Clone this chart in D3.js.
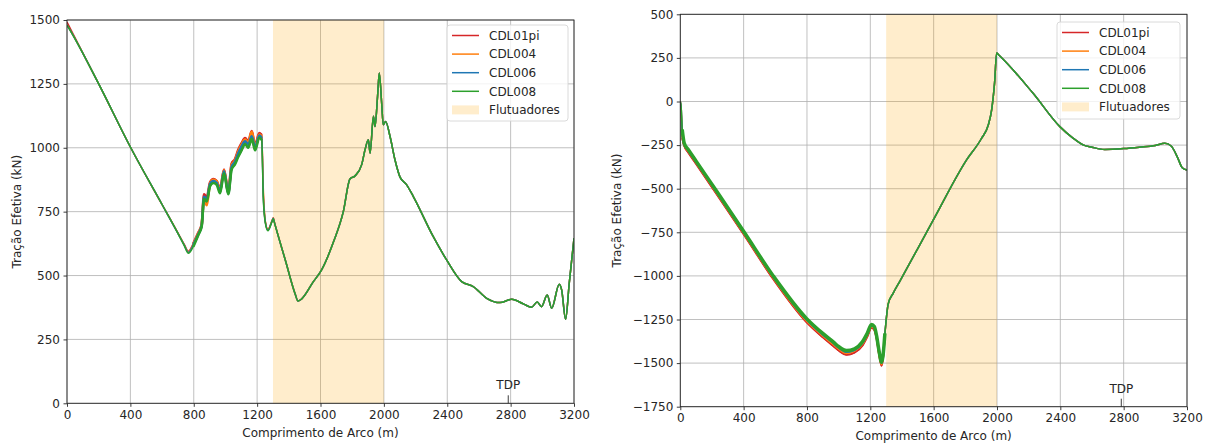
<!DOCTYPE html>
<html>
<head>
<meta charset="utf-8">
<script src="https://cdn.jsdelivr.net/npm/d3@7"></script>
<style>
  body { margin: 0; background: #fff; }
  svg { display: block; font-family: "DejaVu Sans", sans-serif; }
</style>
</head>
<body>
<svg id="chart" width="1214" height="443"></svg>
<script>
// ---- Series metadata ----
const seriesNames  = ["CDL01pi", "CDL004", "CDL006", "CDL008"];
const seriesColors = ["#d62728", "#ff7f0e", "#1f77b4", "#2ca02c"];
const floaterLabel = "Flutuadores";
const floaterSpan  = [1300, 2000];   // arc length range with buoyancy modules (m)
const tdpArc       = 2785;           // touch-down point (m)

// ---- Tick values ----
const xTicks      = [0, 400, 800, 1200, 1600, 2000, 2400, 2800, 3200];
const leftYTicks  = [0, 250, 500, 750, 1000, 1250, 1500];
const rightYTicks = [-1750, -1500, -1250, -1000, -750, -500, -250, 0, 250, 500];

// ---- Left panel: effective tension, first section (series differ here) ----
const leftHeadArc = [0, 5, 200, 400, 600, 700, 740, 766, 797, 829, 850, 865, 882, 903, 924, 945, 966,
  991, 1018, 1039, 1060, 1081, 1102, 1124, 1144, 1166, 1187, 1214, 1229, 1239, 1252, 1268, 1296, 1302, 1308];
const leftHeadCDL01pi = [1492, 1486, 1250, 1003, 778, 667, 622, 595, 625, 668, 700, 818, 805, 865, 878, 870, 838,
  915, 828, 938, 955, 992, 1018, 1038, 1025, 1065, 1010, 1058, 1050, 820, 710, 681, 718, 726, 712];
const leftHeadCDL004 = [1480, 1475, 1250, 1003, 778, 666, 620, 592, 622, 665, 698, 805, 775, 860, 875, 868, 835,
  912, 825, 932, 950, 985, 1012, 1032, 1020, 1062, 1005, 1052, 1045, 840, 712, 679, 717, 725, 711];
const leftHeadCDL006 = [1480, 1475, 1250, 1003, 778, 665, 619, 590, 620, 662, 695, 808, 798, 858, 870, 862, 830,
  908, 822, 925, 945, 978, 1005, 1025, 1012, 1045, 1000, 1048, 1038, 810, 708, 677, 716, 724, 710];
const leftHeadCDL008 = [1480, 1475, 1250, 1003, 778, 665, 617, 587, 613, 659, 692, 800, 790, 850, 862, 855, 822,
  900, 818, 915, 935, 965, 990, 1015, 1000, 1035, 990, 1040, 1030, 800, 705, 675, 714, 722, 709];

// ---- Left panel: remaining section (all series coincide) ----
const leftTailArc = [1380, 1440, 1458, 1480, 1555, 1607, 1681, 1744, 1786, 1818, 1860, 1881, 1902, 1913, 1934,
  1944, 1960, 1971, 1986, 1996, 2011, 2039, 2070, 2102, 2144, 2186, 2312, 2396, 2491, 2564, 2649, 2733, 2807,
  2880, 2932, 2968, 2995, 3031, 3059, 3107, 3122, 3147, 3170, 3200];
const leftTailTension = [556, 428, 400, 408, 476, 522, 630, 750, 878, 890, 934, 992, 1031, 979, 1123,
  1083, 1200, 1293, 1175, 1090, 1103, 1044, 953, 885, 855, 809, 652, 561, 476, 457, 411, 394, 407,
  389, 376, 396, 378, 424, 372, 466, 444, 329, 470, 646];

// ---- Right panel: effective tension, first section (series differ here) ----
const rightHeadArc = [0, 6, 12, 25, 50, 100, 230, 404, 587, 798, 900, 966, 1000, 1050, 1100, 1150, 1180,
  1208, 1225, 1240, 1255, 1271, 1280, 1292, 1313];
const rightHeadCDL01pi = [0, -70, -210, -255, -292, -358, -532, -766, -1018, -1266, -1352, -1402, -1428, -1452,
  -1440, -1400, -1350, -1298, -1310, -1362, -1450, -1515, -1475, -1338, -1162];
const rightHeadCDL004 = [0, -45, -175, -248, -284, -350, -524, -760, -1010, -1258, -1343, -1392, -1418, -1443,
  -1430, -1390, -1342, -1290, -1302, -1355, -1442, -1507, -1468, -1335, -1161];
const rightHeadCDL006 = [0, -42, -165, -244, -280, -346, -520, -755, -1005, -1252, -1337, -1385, -1412, -1436,
  -1425, -1385, -1337, -1284, -1296, -1350, -1436, -1500, -1464, -1332, -1160];
const rightHeadCDL008 = [0, -40, -160, -240, -275, -342, -515, -750, -1000, -1245, -1330, -1378, -1405, -1428,
  -1418, -1378, -1330, -1278, -1290, -1345, -1430, -1495, -1460, -1330, -1160];

// ---- Right panel: remaining section (all series coincide) ----
const rightTailArc = [1344, 1387, 1598, 1808, 1900, 1945, 1966, 1985, 1998, 2010, 2228, 2397, 2480, 2544,
  2600, 2680, 2800, 2900, 3000, 3060, 3100, 3140, 3170, 3200];
const rightTailTension = [-1100, -1030, -679, -335, -215, -135, -49, 110, 278, 268, 47, -144, -210, -249,
  -262, -275, -270, -262, -252, -240, -255, -320, -380, -393];

// ---- Helpers ----
const fmtTick = d => (d < 0 ? "\u2212" + Math.abs(d) : String(d));

function zipPoints(arc, values) {
  return arc.map((a, i) => ({ arc: a, value: values[i] }));
}

const svg = d3.select("#chart");

function drawPanel(cfg) {
  const g = svg.append("g");
  const x = d3.scaleLinear().domain([0, 3200]).range([cfg.left, cfg.right]);
  const y = d3.scaleLinear().domain(cfg.yDomain).range([cfg.bottom, cfg.top]);

  // grid
  const grid = g.append("g").attr("stroke", "#b0b0b0").attr("stroke-width", 0.8);
  grid.selectAll(".gx").data(xTicks).join("line")
    .attr("x1", d => x(d)).attr("x2", d => x(d))
    .attr("y1", cfg.top).attr("y2", cfg.bottom);
  grid.selectAll(".gy").data(cfg.yTicks).join("line")
    .attr("x1", cfg.left).attr("x2", cfg.right)
    .attr("y1", d => y(d)).attr("y2", d => y(d));

  // floater span
  g.append("rect")
    .attr("x", x(floaterSpan[0])).attr("width", x(floaterSpan[1]) - x(floaterSpan[0]))
    .attr("y", cfg.top).attr("height", cfg.bottom - cfg.top)
    .attr("fill", "#ffa500").attr("fill-opacity", 0.2);

  // series lines
  const line = d3.line().x(d => x(d.arc)).y(d => y(d.value)).curve(d3.curveMonotoneX);
  const clipId = "clip-" + cfg.id;
  svg.append("clipPath").attr("id", clipId).append("rect")
    .attr("x", cfg.left).attr("y", cfg.top - 2)
    .attr("width", cfg.right - cfg.left).attr("height", cfg.bottom - cfg.top + 2);
  const lines = g.append("g").attr("clip-path", `url(#${clipId})`);
  cfg.heads.forEach((head, i) => {
    const pts = zipPoints(cfg.headArc.concat(cfg.tailArc), head.concat(cfg.tail));
    lines.append("path")
      .attr("d", line(pts))
      .attr("fill", "none")
      .attr("stroke", seriesColors[i])
      .attr("stroke-width", 1.5)
      .attr("stroke-linejoin", "round");
    // oscillating stretch drawn as a wider band
    const [a0, a1] = cfg.bandRange;
    const band = pts.filter(p => p.arc >= a0 && p.arc <= a1);
    lines.append("path")
      .attr("d", line(band))
      .attr("fill", "none")
      .attr("stroke", seriesColors[i])
      .attr("stroke-width", cfg.bandWidths[i])
      .attr("stroke-linejoin", "round");
  });

  // frame
  g.append("rect")
    .attr("x", cfg.left).attr("y", cfg.top)
    .attr("width", cfg.right - cfg.left).attr("height", cfg.bottom - cfg.top)
    .attr("fill", "none").attr("stroke", "#262626").attr("stroke-width", 0.9);

  // axes
  const xAxis = g.append("g").attr("transform", `translate(0,${cfg.bottom})`)
    .call(d3.axisBottom(x).tickValues(xTicks).tickSize(3.5).tickPadding(3.5).tickFormat(fmtTick));
  const yAxis = g.append("g").attr("transform", `translate(${cfg.left},0)`)
    .call(d3.axisLeft(y).tickValues(cfg.yTicks).tickSize(3.5).tickPadding(3.5).tickFormat(fmtTick));
  [xAxis, yAxis].forEach(ax => {
    ax.select(".domain").remove();
    ax.selectAll(".tick line").attr("stroke", "#262626").attr("stroke-width", 0.9);
    ax.selectAll(".tick text").attr("fill", "#262626")
      .style("font-size", "12px").style("font-family", "DejaVu Sans, sans-serif");
  });

  // axis titles
  g.append("text")
    .attr("x", (cfg.left + cfg.right) / 2).attr("y", cfg.xLabelY)
    .attr("text-anchor", "middle").attr("fill", "#262626").style("font-size", "12px")
    .text("Comprimento de Arco (m)");
  g.append("text")
    .attr("transform", `translate(${cfg.yLabelX},${(cfg.top + cfg.bottom) / 2}) rotate(-90)`)
    .attr("text-anchor", "middle").attr("dominant-baseline", "central")
    .attr("fill", "#262626").style("font-size", "12px")
    .text("Tração Efetiva (kN)");

  // TDP marker
  g.append("line")
    .attr("x1", x(tdpArc)).attr("x2", x(tdpArc))
    .attr("y1", cfg.bottom - 8).attr("y2", cfg.bottom)
    .attr("stroke", "#262626").attr("stroke-width", 0.9);
  g.append("text")
    .attr("x", x(tdpArc)).attr("y", cfg.bottom - 14)
    .attr("text-anchor", "middle").attr("fill", "#262626").style("font-size", "12px")
    .text("TDP");

  // legend
  const L = cfg.legend;
  const lg = g.append("g");
  lg.append("rect")
    .attr("x", L.x).attr("y", L.y).attr("width", L.w).attr("height", L.h).attr("rx", 3)
    .attr("fill", "#fff").attr("fill-opacity", 0.8)
    .attr("stroke", "#d6d6d6").attr("stroke-width", 0.9);
  const rowY = i => L.y + 10.5 + i * 18.6;
  seriesNames.forEach((name, i) => {
    lg.append("line")
      .attr("x1", L.x + 5).attr("x2", L.x + 32)
      .attr("y1", rowY(i)).attr("y2", rowY(i))
      .attr("stroke", seriesColors[i]).attr("stroke-width", 1.5);
    lg.append("text")
      .attr("x", L.x + 42).attr("y", rowY(i)).attr("dy", "0.36em")
      .attr("fill", "#262626").style("font-size", "12px").text(name);
  });
  lg.append("rect")
    .attr("x", L.x + 5).attr("width", 27)
    .attr("y", rowY(4) - 4.5).attr("height", 9)
    .attr("fill", "#ffa500").attr("fill-opacity", 0.2);
  lg.append("text")
    .attr("x", L.x + 42).attr("y", rowY(4)).attr("dy", "0.36em")
    .attr("fill", "#262626").style("font-size", "12px").text(floaterLabel);
}

drawPanel({
  id: "left",
  left: 67, right: 574, top: 20, bottom: 403.3,
  yDomain: [0, 1500], yTicks: leftYTicks,
  headArc: leftHeadArc, tailArc: leftTailArc, tail: leftTailTension,
  heads: [leftHeadCDL01pi, leftHeadCDL004, leftHeadCDL006, leftHeadCDL008],
  bandRange: [790, 1232], bandWidths: [2.6, 2.6, 2.6, 2.6],
  xLabelY: 437, yLabelX: 17,
  legend: { x: 447, y: 25, w: 121, h: 96 }
});

drawPanel({
  id: "right",
  left: 680.3, right: 1187, top: 14.3, bottom: 406.7,
  yDomain: [-1750, 500], yTicks: rightYTicks,
  headArc: rightHeadArc, tailArc: rightTailArc, tail: rightTailTension,
  heads: [rightHeadCDL01pi, rightHeadCDL004, rightHeadCDL006, rightHeadCDL008],
  bandRange: [12, 1292], bandWidths: [2, 2, 2, 3.5],
  xLabelY: 440, yLabelX: 617,
  legend: { x: 1057, y: 22, w: 123, h: 97 }
});
</script>
</body>
</html>
